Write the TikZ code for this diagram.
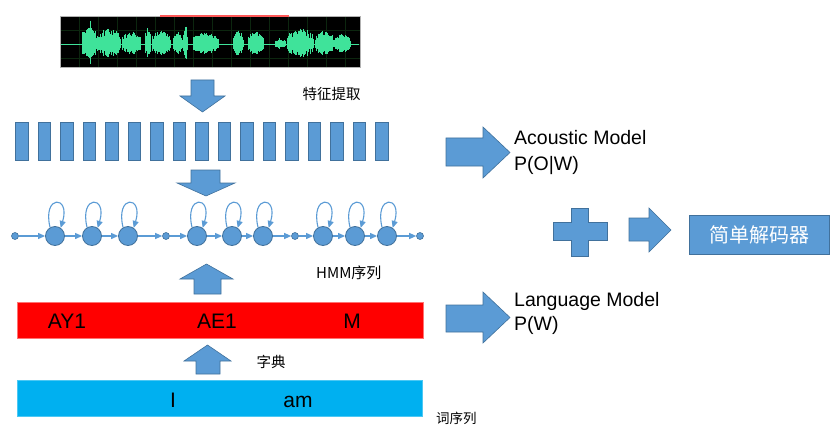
\documentclass[tikz,border=0pt]{standalone}
\usepackage{fontspec}
\setmainfont{Liberation Sans}
\newfontfamily\cjk{Noto Sans CJK SC}
\usetikzlibrary{arrows.meta}
\definecolor{boxblue}{HTML}{5B9BD5}
\definecolor{boxedge}{HTML}{41719C}
\definecolor{wavegreen}{HTML}{3FE39A}
\definecolor{gridgreen}{HTML}{0C260F}
\definecolor{barred}{HTML}{FF0000}
\definecolor{barcyan}{HTML}{00B0F0}
\begin{document}
\begin{tikzpicture}[x=1pt,y=-1pt,
  blockarrow/.style={fill=boxblue, draw=boxedge, line width=0.6pt, line join=miter},
  feat/.style={rectangle, fill=boxblue, draw=boxedge, line width=0.8pt, minimum width=12.5pt, minimum height=38pt, inner sep=0pt},
  state/.style={circle, fill=boxblue, draw=boxedge, line width=0.8pt, minimum size=19pt, inner sep=0pt},
  smalldot/.style={circle, fill=boxblue, draw=boxedge, line width=0.6pt, minimum size=7pt, inner sep=0pt},
  conn/.style={draw=boxblue, line width=1.1pt, -{Triangle[length=7pt,width=6pt]}},
  lbl/.style={font=\fontsize{19.5}{22}\selectfont, inner sep=0pt, anchor=base west},
  phone/.style={font=\fontsize{21}{24}\selectfont, inner sep=0pt, anchor=base},
  cn/.style={font=\cjk\fontsize{14.5}{16}\selectfont, inner sep=0pt}
]
\useasboundingbox (0,0) rectangle (835,433);

% ---------- waveform ----------
\fill[black] (60,16) rectangle (360,67);
\foreach \gx in {79,98,...,360} \draw[gridgreen, line width=0.5pt] (\gx,16) -- (\gx,67);
\foreach \gy in {30,44,58} \draw[gridgreen, line width=0.5pt] (60,\gy) -- (360,\gy);
\draw[wavegreen, line width=0.8pt] (61,44) -- (359,44);
\pgfmathsetseed{11}
\foreach \a/\b/\h in {82/96/19, 88.5/91.5/26, 97/120/17, 122/140/13, 145/150/16, 152/170/14,
  173/182/12, 183/187/23, 193/218/12, 233/243/14, 248/263/13, 275/285/6, 287/313/16,
  315/333/13, 334/350/11}{
  \pgfmathsetmacro\bb{\a+0.5}
  \foreach \x in {\a,\bb,...,\b}{
    \pgfmathsetmacro\r{\h*(0.45+0.55*rnd)*(0.6+0.4*sin(180*(\x-\a)/(\b-\a+0.01)))}
    \draw[wavegreen, line width=0.7pt] (\x,44-\r) -- (\x,44+0.85*\r);
  }
}
\draw[gray!60, line width=0.8pt] (60,16) rectangle (360,67);
\draw[red!65!white, line width=1.3pt] (160,16) -- (289,16);

% ---------- block arrows (left column) ----------
\draw[blockarrow] (191,80) -- (214,80) -- (214,96) -- (225,96) -- (202.5,112) -- (180,96) -- (191,96) -- cycle;
\draw[blockarrow] (191,170) -- (220,170) -- (220,183) -- (235,183) -- (206,196) -- (177,183) -- (191,183) -- cycle;
\draw[blockarrow] (194,294) -- (221,294) -- (221,279) -- (233,279) -- (206.5,264) -- (180,279) -- (194,279) -- cycle;
\draw[blockarrow] (196,374) -- (220,374) -- (220,361) -- (231,361) -- (207.5,345) -- (184,361) -- (196,361) -- cycle;

\node[cn] (fe) at (331.5,94) {特征提取};

% ---------- feature frames ----------
\foreach \i in {0,...,16} \node[feat] (f\i) at (22+22.5*\i,141) {};

% ---------- HMM chain ----------
\node[smalldot] (s0) at (15,236) {};
\node[state] (c1) at (55,236) {};
\node[state] (c2) at (92,236) {};
\node[state] (c3) at (128,236) {};
\node[smalldot] (s1) at (166,236) {};
\node[state] (c4) at (197,236) {};
\node[state] (c5) at (232,236) {};
\node[state] (c6) at (263,236) {};
\node[smalldot] (s2) at (295,236) {};
\node[state] (c7) at (323,236) {};
\node[state] (c8) at (355,236) {};
\node[state] (c9) at (387,236) {};
\node[smalldot] (s3) at (420,236) {};
\foreach \p/\q in {s0/c1,c1/c2,c2/c3,c3/s1,s1/c4,c4/c5,c5/c6,c6/s2,s2/c7,c7/c8,c8/c9,c9/s3}
  \draw[conn] (\p) -- (\q);
\foreach \c in {c1,c2,c3,c4,c5,c6,c7,c8,c9}
  \draw[conn] (\c.120) .. controls +(-8,-33) and +(10,-33) .. (\c.55);

\node[cn, anchor=west, font=\cjk\fontsize{15}{17}\selectfont] (hmm) at (316,273) {HMM序列};

% ---------- phone and word bars ----------
\node[fill=barred, draw=red!55!white, line width=0.6pt, minimum width=406pt, minimum height=36pt, inner sep=0pt] (phones) at (220,320) {};
\node[phone] (ay) at (67,328) {AY1};
\node[phone] (ae) at (217,328) {AE1};
\node[phone] (mm) at (352,328) {M};

\node[cn] (zd) at (271,362) {字典};

\node[fill=barcyan, draw=barcyan!70!white, line width=0.6pt, minimum width=405pt, minimum height=36pt, inner sep=0pt] (words) at (219.5,398) {};
\node[phone] (wi) at (173,407) {I};
\node[phone] (wam) at (298,407) {am};

\node[cn, anchor=west, font=\cjk\fontsize{13.5}{15}\selectfont] (cx) at (436,418) {词序列};

% ---------- right side ----------
\draw[blockarrow] (446,138) -- (483,138) -- (483,127) -- (510,152.5) -- (483,178) -- (483,166) -- (446,166) -- cycle;
\node[lbl] (am1) at (514,145) {Acoustic Model};
\node[lbl] (am2) at (514,170) {P(O|W)};

\draw[blockarrow] (446,305) -- (483,305) -- (483,292) -- (510,317.5) -- (483,343) -- (483,332) -- (446,332) -- cycle;
\node[lbl] (lm1) at (514,306) {Language Model};
\node[lbl] (lm2) at (514,330) {P(W)};

\draw[blockarrow] (571.5,208) -- (588,208) -- (588,222.5) -- (607,222.5) -- (607,240) -- (588,240) -- (588,256)
  -- (571.5,256) -- (571.5,240) -- (553,240) -- (553,222.5) -- (571.5,222.5) -- cycle;
\draw[blockarrow] (629,218) -- (649,218) -- (649,208) -- (671,230) -- (649,252) -- (649,241) -- (629,241) -- cycle;

\node[fill=boxblue, draw=boxedge, line width=0.8pt, minimum width=140pt, minimum height=39pt, inner sep=0pt,
  text=white, font=\cjk\fontsize{20}{22}\selectfont] (dec) at (759,234.5) {简单解码器};
\end{tikzpicture}
\end{document}
